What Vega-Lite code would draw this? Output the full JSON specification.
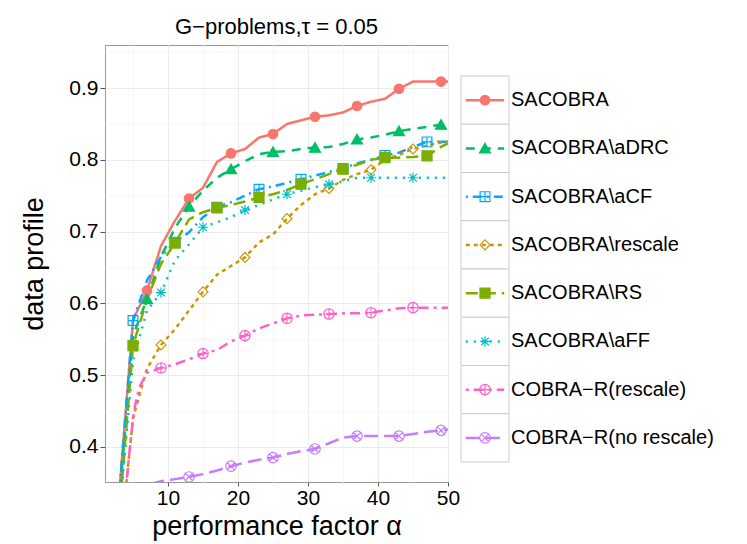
{
  "$schema": "https://vega.github.io/schema/vega-lite/v6.json",
  "padding": {"left": 20, "top": 15, "right": 5, "bottom": 5},
  "background": "white",
  "bounds": "flush",
  "spacing": 13,
  "config": {
    "font": "Liberation Sans",
    "view": {"stroke": "#999999", "strokeWidth": 1},
    "legend": {"disable": true},
    "axis": {
      "labelFont": "Liberation Sans",
      "titleFont": "Liberation Sans",
      "labelColor": "#000000",
      "titleColor": "#000000",
      "titleFontWeight": "normal",
      "domain": false,
      "tickColor": "#555555"
    }
  },
  "datasets": {
    "methods": [
      {"method": "SACOBRA"},
      {"method": "SACOBRA\\aDRC"},
      {"method": "SACOBRA\\aCF"},
      {"method": "SACOBRA\\rescale"},
      {"method": "SACOBRA\\RS"},
      {"method": "SACOBRA\\aFF"},
      {"method": "COBRA−R(rescale)"},
      {"method": "COBRA−R(no rescale)"}
    ],
    "curves": [
      {"method": "SACOBRA", "alpha": 3, "profile": 0.331},
      {"method": "SACOBRA", "alpha": 5, "profile": 0.577},
      {"method": "SACOBRA", "alpha": 7, "profile": 0.618},
      {"method": "SACOBRA", "alpha": 9, "profile": 0.68},
      {"method": "SACOBRA", "alpha": 11, "profile": 0.715},
      {"method": "SACOBRA", "alpha": 13, "profile": 0.746},
      {"method": "SACOBRA", "alpha": 15, "profile": 0.761},
      {"method": "SACOBRA", "alpha": 17, "profile": 0.797},
      {"method": "SACOBRA", "alpha": 19, "profile": 0.809},
      {"method": "SACOBRA", "alpha": 21, "profile": 0.815},
      {"method": "SACOBRA", "alpha": 23, "profile": 0.831},
      {"method": "SACOBRA", "alpha": 25, "profile": 0.836},
      {"method": "SACOBRA", "alpha": 27, "profile": 0.85},
      {"method": "SACOBRA", "alpha": 29, "profile": 0.855},
      {"method": "SACOBRA", "alpha": 31, "profile": 0.86},
      {"method": "SACOBRA", "alpha": 33, "profile": 0.862},
      {"method": "SACOBRA", "alpha": 35, "profile": 0.866},
      {"method": "SACOBRA", "alpha": 37, "profile": 0.875},
      {"method": "SACOBRA", "alpha": 39, "profile": 0.881},
      {"method": "SACOBRA", "alpha": 41, "profile": 0.885},
      {"method": "SACOBRA", "alpha": 43, "profile": 0.899},
      {"method": "SACOBRA", "alpha": 45, "profile": 0.909},
      {"method": "SACOBRA", "alpha": 47, "profile": 0.909},
      {"method": "SACOBRA", "alpha": 49, "profile": 0.909},
      {"method": "SACOBRA", "alpha": 50, "profile": 0.909},
      {"method": "SACOBRA\\aDRC", "alpha": 3, "profile": 0.32},
      {"method": "SACOBRA\\aDRC", "alpha": 5, "profile": 0.555},
      {"method": "SACOBRA\\aDRC", "alpha": 7, "profile": 0.606},
      {"method": "SACOBRA\\aDRC", "alpha": 9, "profile": 0.665},
      {"method": "SACOBRA\\aDRC", "alpha": 11, "profile": 0.705},
      {"method": "SACOBRA\\aDRC", "alpha": 13, "profile": 0.735},
      {"method": "SACOBRA\\aDRC", "alpha": 15, "profile": 0.757},
      {"method": "SACOBRA\\aDRC", "alpha": 17, "profile": 0.775},
      {"method": "SACOBRA\\aDRC", "alpha": 19, "profile": 0.787},
      {"method": "SACOBRA\\aDRC", "alpha": 21, "profile": 0.798},
      {"method": "SACOBRA\\aDRC", "alpha": 23, "profile": 0.808},
      {"method": "SACOBRA\\aDRC", "alpha": 25, "profile": 0.811},
      {"method": "SACOBRA\\aDRC", "alpha": 27, "profile": 0.812},
      {"method": "SACOBRA\\aDRC", "alpha": 29, "profile": 0.815},
      {"method": "SACOBRA\\aDRC", "alpha": 31, "profile": 0.817},
      {"method": "SACOBRA\\aDRC", "alpha": 33, "profile": 0.818},
      {"method": "SACOBRA\\aDRC", "alpha": 35, "profile": 0.822},
      {"method": "SACOBRA\\aDRC", "alpha": 37, "profile": 0.8285},
      {"method": "SACOBRA\\aDRC", "alpha": 39, "profile": 0.831},
      {"method": "SACOBRA\\aDRC", "alpha": 41, "profile": 0.835},
      {"method": "SACOBRA\\aDRC", "alpha": 43, "profile": 0.84},
      {"method": "SACOBRA\\aDRC", "alpha": 45, "profile": 0.843},
      {"method": "SACOBRA\\aDRC", "alpha": 47, "profile": 0.846},
      {"method": "SACOBRA\\aDRC", "alpha": 49, "profile": 0.849},
      {"method": "SACOBRA\\aDRC", "alpha": 50, "profile": 0.85},
      {"method": "SACOBRA\\aCF", "alpha": 3, "profile": 0.33},
      {"method": "SACOBRA\\aCF", "alpha": 5, "profile": 0.576},
      {"method": "SACOBRA\\aCF", "alpha": 7, "profile": 0.632},
      {"method": "SACOBRA\\aCF", "alpha": 9, "profile": 0.665},
      {"method": "SACOBRA\\aCF", "alpha": 11, "profile": 0.685},
      {"method": "SACOBRA\\aCF", "alpha": 13, "profile": 0.699},
      {"method": "SACOBRA\\aCF", "alpha": 15, "profile": 0.72},
      {"method": "SACOBRA\\aCF", "alpha": 17, "profile": 0.734},
      {"method": "SACOBRA\\aCF", "alpha": 19, "profile": 0.741},
      {"method": "SACOBRA\\aCF", "alpha": 21, "profile": 0.75},
      {"method": "SACOBRA\\aCF", "alpha": 23, "profile": 0.759},
      {"method": "SACOBRA\\aCF", "alpha": 25, "profile": 0.763},
      {"method": "SACOBRA\\aCF", "alpha": 27, "profile": 0.768},
      {"method": "SACOBRA\\aCF", "alpha": 29, "profile": 0.773},
      {"method": "SACOBRA\\aCF", "alpha": 31, "profile": 0.778},
      {"method": "SACOBRA\\aCF", "alpha": 33, "profile": 0.783},
      {"method": "SACOBRA\\aCF", "alpha": 35, "profile": 0.788},
      {"method": "SACOBRA\\aCF", "alpha": 37, "profile": 0.795},
      {"method": "SACOBRA\\aCF", "alpha": 39, "profile": 0.8},
      {"method": "SACOBRA\\aCF", "alpha": 41, "profile": 0.806},
      {"method": "SACOBRA\\aCF", "alpha": 43, "profile": 0.81},
      {"method": "SACOBRA\\aCF", "alpha": 45, "profile": 0.818},
      {"method": "SACOBRA\\aCF", "alpha": 47, "profile": 0.825},
      {"method": "SACOBRA\\aCF", "alpha": 49, "profile": 0.825},
      {"method": "SACOBRA\\aCF", "alpha": 50, "profile": 0.825},
      {"method": "SACOBRA\\rescale", "alpha": 3, "profile": 0.25},
      {"method": "SACOBRA\\rescale", "alpha": 5, "profile": 0.44},
      {"method": "SACOBRA\\rescale", "alpha": 7, "profile": 0.509},
      {"method": "SACOBRA\\rescale", "alpha": 9, "profile": 0.542},
      {"method": "SACOBRA\\rescale", "alpha": 11, "profile": 0.564},
      {"method": "SACOBRA\\rescale", "alpha": 13, "profile": 0.59},
      {"method": "SACOBRA\\rescale", "alpha": 15, "profile": 0.616},
      {"method": "SACOBRA\\rescale", "alpha": 17, "profile": 0.64},
      {"method": "SACOBRA\\rescale", "alpha": 19, "profile": 0.652},
      {"method": "SACOBRA\\rescale", "alpha": 21, "profile": 0.664},
      {"method": "SACOBRA\\rescale", "alpha": 23, "profile": 0.685},
      {"method": "SACOBRA\\rescale", "alpha": 25, "profile": 0.696},
      {"method": "SACOBRA\\rescale", "alpha": 27, "profile": 0.718},
      {"method": "SACOBRA\\rescale", "alpha": 29, "profile": 0.737},
      {"method": "SACOBRA\\rescale", "alpha": 31, "profile": 0.752},
      {"method": "SACOBRA\\rescale", "alpha": 33, "profile": 0.76},
      {"method": "SACOBRA\\rescale", "alpha": 35, "profile": 0.772},
      {"method": "SACOBRA\\rescale", "alpha": 37, "profile": 0.78},
      {"method": "SACOBRA\\rescale", "alpha": 39, "profile": 0.786},
      {"method": "SACOBRA\\rescale", "alpha": 41, "profile": 0.8},
      {"method": "SACOBRA\\rescale", "alpha": 43, "profile": 0.807},
      {"method": "SACOBRA\\rescale", "alpha": 45, "profile": 0.815},
      {"method": "SACOBRA\\rescale", "alpha": 47, "profile": 0.82},
      {"method": "SACOBRA\\rescale", "alpha": 49, "profile": 0.824},
      {"method": "SACOBRA\\rescale", "alpha": 50, "profile": 0.826},
      {"method": "SACOBRA\\RS", "alpha": 3, "profile": 0.3},
      {"method": "SACOBRA\\RS", "alpha": 5, "profile": 0.541},
      {"method": "SACOBRA\\RS", "alpha": 7, "profile": 0.605},
      {"method": "SACOBRA\\RS", "alpha": 9, "profile": 0.655},
      {"method": "SACOBRA\\RS", "alpha": 11, "profile": 0.684},
      {"method": "SACOBRA\\RS", "alpha": 13, "profile": 0.717},
      {"method": "SACOBRA\\RS", "alpha": 15, "profile": 0.727},
      {"method": "SACOBRA\\RS", "alpha": 17, "profile": 0.733},
      {"method": "SACOBRA\\RS", "alpha": 19, "profile": 0.737},
      {"method": "SACOBRA\\RS", "alpha": 21, "profile": 0.742},
      {"method": "SACOBRA\\RS", "alpha": 23, "profile": 0.7475},
      {"method": "SACOBRA\\RS", "alpha": 25, "profile": 0.752},
      {"method": "SACOBRA\\RS", "alpha": 27, "profile": 0.758},
      {"method": "SACOBRA\\RS", "alpha": 29, "profile": 0.766},
      {"method": "SACOBRA\\RS", "alpha": 31, "profile": 0.773},
      {"method": "SACOBRA\\RS", "alpha": 33, "profile": 0.78},
      {"method": "SACOBRA\\RS", "alpha": 35, "profile": 0.787},
      {"method": "SACOBRA\\RS", "alpha": 37, "profile": 0.793},
      {"method": "SACOBRA\\RS", "alpha": 39, "profile": 0.8},
      {"method": "SACOBRA\\RS", "alpha": 41, "profile": 0.803},
      {"method": "SACOBRA\\RS", "alpha": 43, "profile": 0.803},
      {"method": "SACOBRA\\RS", "alpha": 45, "profile": 0.804},
      {"method": "SACOBRA\\RS", "alpha": 47, "profile": 0.8055},
      {"method": "SACOBRA\\RS", "alpha": 49, "profile": 0.818},
      {"method": "SACOBRA\\RS", "alpha": 50, "profile": 0.823},
      {"method": "SACOBRA\\aFF", "alpha": 3, "profile": 0.3},
      {"method": "SACOBRA\\aFF", "alpha": 5, "profile": 0.52},
      {"method": "SACOBRA\\aFF", "alpha": 7, "profile": 0.59},
      {"method": "SACOBRA\\aFF", "alpha": 9, "profile": 0.615},
      {"method": "SACOBRA\\aFF", "alpha": 11, "profile": 0.66},
      {"method": "SACOBRA\\aFF", "alpha": 13, "profile": 0.682},
      {"method": "SACOBRA\\aFF", "alpha": 15, "profile": 0.706},
      {"method": "SACOBRA\\aFF", "alpha": 17, "profile": 0.713},
      {"method": "SACOBRA\\aFF", "alpha": 19, "profile": 0.72},
      {"method": "SACOBRA\\aFF", "alpha": 21, "profile": 0.73},
      {"method": "SACOBRA\\aFF", "alpha": 23, "profile": 0.737},
      {"method": "SACOBRA\\aFF", "alpha": 25, "profile": 0.745},
      {"method": "SACOBRA\\aFF", "alpha": 27, "profile": 0.752},
      {"method": "SACOBRA\\aFF", "alpha": 29, "profile": 0.757},
      {"method": "SACOBRA\\aFF", "alpha": 31, "profile": 0.762},
      {"method": "SACOBRA\\aFF", "alpha": 33, "profile": 0.766},
      {"method": "SACOBRA\\aFF", "alpha": 35, "profile": 0.77},
      {"method": "SACOBRA\\aFF", "alpha": 37, "profile": 0.775},
      {"method": "SACOBRA\\aFF", "alpha": 39, "profile": 0.775},
      {"method": "SACOBRA\\aFF", "alpha": 41, "profile": 0.775},
      {"method": "SACOBRA\\aFF", "alpha": 43, "profile": 0.775},
      {"method": "SACOBRA\\aFF", "alpha": 45, "profile": 0.775},
      {"method": "SACOBRA\\aFF", "alpha": 47, "profile": 0.775},
      {"method": "SACOBRA\\aFF", "alpha": 49, "profile": 0.775},
      {"method": "SACOBRA\\aFF", "alpha": 50, "profile": 0.775},
      {"method": "COBRA−R(rescale)", "alpha": 3, "profile": 0.25},
      {"method": "COBRA−R(rescale)", "alpha": 4, "profile": 0.344},
      {"method": "COBRA−R(rescale)", "alpha": 5, "profile": 0.44},
      {"method": "COBRA−R(rescale)", "alpha": 5.5, "profile": 0.468},
      {"method": "COBRA−R(rescale)", "alpha": 6, "profile": 0.485},
      {"method": "COBRA−R(rescale)", "alpha": 7, "profile": 0.503},
      {"method": "COBRA−R(rescale)", "alpha": 9, "profile": 0.51},
      {"method": "COBRA−R(rescale)", "alpha": 11, "profile": 0.515},
      {"method": "COBRA−R(rescale)", "alpha": 13, "profile": 0.522},
      {"method": "COBRA−R(rescale)", "alpha": 15, "profile": 0.53},
      {"method": "COBRA−R(rescale)", "alpha": 17, "profile": 0.535},
      {"method": "COBRA−R(rescale)", "alpha": 19, "profile": 0.547},
      {"method": "COBRA−R(rescale)", "alpha": 21, "profile": 0.555},
      {"method": "COBRA−R(rescale)", "alpha": 23, "profile": 0.565},
      {"method": "COBRA−R(rescale)", "alpha": 25, "profile": 0.572},
      {"method": "COBRA−R(rescale)", "alpha": 27, "profile": 0.579},
      {"method": "COBRA−R(rescale)", "alpha": 29, "profile": 0.583},
      {"method": "COBRA−R(rescale)", "alpha": 31, "profile": 0.584},
      {"method": "COBRA−R(rescale)", "alpha": 33, "profile": 0.585},
      {"method": "COBRA−R(rescale)", "alpha": 35, "profile": 0.586},
      {"method": "COBRA−R(rescale)", "alpha": 37, "profile": 0.586},
      {"method": "COBRA−R(rescale)", "alpha": 39, "profile": 0.587},
      {"method": "COBRA−R(rescale)", "alpha": 41, "profile": 0.59},
      {"method": "COBRA−R(rescale)", "alpha": 43, "profile": 0.593},
      {"method": "COBRA−R(rescale)", "alpha": 45, "profile": 0.594},
      {"method": "COBRA−R(rescale)", "alpha": 47, "profile": 0.594},
      {"method": "COBRA−R(rescale)", "alpha": 49, "profile": 0.594},
      {"method": "COBRA−R(rescale)", "alpha": 50, "profile": 0.594},
      {"method": "COBRA−R(no rescale)", "alpha": 5, "profile": 0.3},
      {"method": "COBRA−R(no rescale)", "alpha": 7, "profile": 0.347},
      {"method": "COBRA−R(no rescale)", "alpha": 9, "profile": 0.352},
      {"method": "COBRA−R(no rescale)", "alpha": 11, "profile": 0.355},
      {"method": "COBRA−R(no rescale)", "alpha": 13, "profile": 0.358},
      {"method": "COBRA−R(no rescale)", "alpha": 15, "profile": 0.362},
      {"method": "COBRA−R(no rescale)", "alpha": 17, "profile": 0.367},
      {"method": "COBRA−R(no rescale)", "alpha": 19, "profile": 0.373},
      {"method": "COBRA−R(no rescale)", "alpha": 21, "profile": 0.378},
      {"method": "COBRA−R(no rescale)", "alpha": 23, "profile": 0.382},
      {"method": "COBRA−R(no rescale)", "alpha": 25, "profile": 0.385},
      {"method": "COBRA−R(no rescale)", "alpha": 27, "profile": 0.39},
      {"method": "COBRA−R(no rescale)", "alpha": 29, "profile": 0.394},
      {"method": "COBRA−R(no rescale)", "alpha": 31, "profile": 0.397},
      {"method": "COBRA−R(no rescale)", "alpha": 33, "profile": 0.405},
      {"method": "COBRA−R(no rescale)", "alpha": 35, "profile": 0.413},
      {"method": "COBRA−R(no rescale)", "alpha": 37, "profile": 0.415},
      {"method": "COBRA−R(no rescale)", "alpha": 39, "profile": 0.415},
      {"method": "COBRA−R(no rescale)", "alpha": 41, "profile": 0.415},
      {"method": "COBRA−R(no rescale)", "alpha": 43, "profile": 0.415},
      {"method": "COBRA−R(no rescale)", "alpha": 45, "profile": 0.418},
      {"method": "COBRA−R(no rescale)", "alpha": 47, "profile": 0.421},
      {"method": "COBRA−R(no rescale)", "alpha": 49, "profile": 0.423},
      {"method": "COBRA−R(no rescale)", "alpha": 50, "profile": 0.424}
    ],
    "markers": [
      {"method": "SACOBRA", "alpha": 7, "profile": 0.618},
      {"method": "SACOBRA", "alpha": 13, "profile": 0.746},
      {"method": "SACOBRA", "alpha": 19, "profile": 0.809},
      {"method": "SACOBRA", "alpha": 25, "profile": 0.836},
      {"method": "SACOBRA", "alpha": 31, "profile": 0.86},
      {"method": "SACOBRA", "alpha": 37, "profile": 0.875},
      {"method": "SACOBRA", "alpha": 43, "profile": 0.899},
      {"method": "SACOBRA", "alpha": 49, "profile": 0.909},
      {"method": "SACOBRA\\aDRC", "alpha": 7, "profile": 0.606},
      {"method": "SACOBRA\\aDRC", "alpha": 13, "profile": 0.735},
      {"method": "SACOBRA\\aDRC", "alpha": 19, "profile": 0.787},
      {"method": "SACOBRA\\aDRC", "alpha": 25, "profile": 0.811},
      {"method": "SACOBRA\\aDRC", "alpha": 31, "profile": 0.817},
      {"method": "SACOBRA\\aDRC", "alpha": 37, "profile": 0.8285},
      {"method": "SACOBRA\\aDRC", "alpha": 43, "profile": 0.84},
      {"method": "SACOBRA\\aDRC", "alpha": 49, "profile": 0.849},
      {"method": "SACOBRA\\aCF", "alpha": 5, "profile": 0.576},
      {"method": "SACOBRA\\aCF", "alpha": 11, "profile": 0.685},
      {"method": "SACOBRA\\aCF", "alpha": 17, "profile": 0.734},
      {"method": "SACOBRA\\aCF", "alpha": 23, "profile": 0.759},
      {"method": "SACOBRA\\aCF", "alpha": 29, "profile": 0.773},
      {"method": "SACOBRA\\aCF", "alpha": 35, "profile": 0.788},
      {"method": "SACOBRA\\aCF", "alpha": 41, "profile": 0.806},
      {"method": "SACOBRA\\aCF", "alpha": 47, "profile": 0.825},
      {"method": "SACOBRA\\rescale", "alpha": 9, "profile": 0.542},
      {"method": "SACOBRA\\rescale", "alpha": 15, "profile": 0.616},
      {"method": "SACOBRA\\rescale", "alpha": 21, "profile": 0.664},
      {"method": "SACOBRA\\rescale", "alpha": 27, "profile": 0.718},
      {"method": "SACOBRA\\rescale", "alpha": 33, "profile": 0.76},
      {"method": "SACOBRA\\rescale", "alpha": 39, "profile": 0.786},
      {"method": "SACOBRA\\rescale", "alpha": 45, "profile": 0.815},
      {"method": "SACOBRA\\RS", "alpha": 5, "profile": 0.541},
      {"method": "SACOBRA\\RS", "alpha": 11, "profile": 0.684},
      {"method": "SACOBRA\\RS", "alpha": 17, "profile": 0.733},
      {"method": "SACOBRA\\RS", "alpha": 23, "profile": 0.7475},
      {"method": "SACOBRA\\RS", "alpha": 29, "profile": 0.766},
      {"method": "SACOBRA\\RS", "alpha": 35, "profile": 0.787},
      {"method": "SACOBRA\\RS", "alpha": 41, "profile": 0.803},
      {"method": "SACOBRA\\RS", "alpha": 47, "profile": 0.8055},
      {"method": "SACOBRA\\aFF", "alpha": 9, "profile": 0.615},
      {"method": "SACOBRA\\aFF", "alpha": 15, "profile": 0.706},
      {"method": "SACOBRA\\aFF", "alpha": 21, "profile": 0.73},
      {"method": "SACOBRA\\aFF", "alpha": 27, "profile": 0.752},
      {"method": "SACOBRA\\aFF", "alpha": 33, "profile": 0.766},
      {"method": "SACOBRA\\aFF", "alpha": 39, "profile": 0.775},
      {"method": "SACOBRA\\aFF", "alpha": 45, "profile": 0.775},
      {"method": "COBRA−R(rescale)", "alpha": 9, "profile": 0.51},
      {"method": "COBRA−R(rescale)", "alpha": 15, "profile": 0.53},
      {"method": "COBRA−R(rescale)", "alpha": 21, "profile": 0.555},
      {"method": "COBRA−R(rescale)", "alpha": 27, "profile": 0.579},
      {"method": "COBRA−R(rescale)", "alpha": 33, "profile": 0.585},
      {"method": "COBRA−R(rescale)", "alpha": 39, "profile": 0.587},
      {"method": "COBRA−R(rescale)", "alpha": 45, "profile": 0.594},
      {"method": "COBRA−R(no rescale)", "alpha": 13, "profile": 0.358},
      {"method": "COBRA−R(no rescale)", "alpha": 19, "profile": 0.373},
      {"method": "COBRA−R(no rescale)", "alpha": 25, "profile": 0.385},
      {"method": "COBRA−R(no rescale)", "alpha": 31, "profile": 0.397},
      {"method": "COBRA−R(no rescale)", "alpha": 37, "profile": 0.415},
      {"method": "COBRA−R(no rescale)", "alpha": 43, "profile": 0.415},
      {"method": "COBRA−R(no rescale)", "alpha": 49, "profile": 0.423}
    ]
  },
  "resolve": {"scale": {"x": "independent", "y": "independent"}},
  "hconcat": [
    {
      "width": 343,
      "height": 437,
      "title": {
        "text": "G−problems,τ = 0.05",
        "fontSize": 22,
        "fontWeight": "normal",
        "font": "Liberation Sans",
        "color": "#000000",
        "anchor": "middle",
        "offset": 6
      },
      "encoding": {
        "x": {
          "field": "alpha",
          "type": "quantitative",
          "scale": {"domain": [1, 50], "nice": false, "zero": false},
          "axis": {
            "title": "performance factor α",
            "titleFontSize": 27,
            "titlePadding": 5,
            "labelFontSize": 21,
            "labelPadding": 1,
            "tickSize": 4,
            "values": [5, 10, 15, 20, 25, 30, 35, 40, 45, 50],
            "labelExpr": "datum.value % 10 === 0 ? datum.label : ''",
            "tickOpacity": {"condition": {"test": "datum.value % 10 === 0", "value": 1}, "value": 0},
            "gridColor": {"condition": {"test": "datum.value % 10 === 0", "value": "#EBEBEB"}, "value": "#F6F6F6"},
            "labelFlush": false
          }
        },
        "y": {
          "field": "profile",
          "type": "quantitative",
          "scale": {"domain": [0.351, 0.96], "nice": false, "zero": false},
          "axis": {
            "title": "data profile",
            "titleFontSize": 27,
            "titlePadding": 20,
            "labelFontSize": 21,
            "labelPadding": 2,
            "tickSize": 5,
            "values": [0.4, 0.45, 0.5, 0.55, 0.6, 0.65, 0.7, 0.75, 0.8, 0.85, 0.9, 0.95],
            "labelExpr": "abs(datum.value * 10 - round(datum.value * 10)) < 0.001 ? format(datum.value, '.1f') : ''",
            "tickOpacity": {"condition": {"test": "abs(datum.value * 10 - round(datum.value * 10)) < 0.001", "value": 1}, "value": 0},
            "gridColor": {"condition": {"test": "abs(datum.value * 10 - round(datum.value * 10)) < 0.001", "value": "#EBEBEB"}, "value": "#F6F6F6"},
            "labelFlush": false
          }
        }
      },
      "layer": [
        {
          "data": {"name": "curves"},
          "mark": {"type": "line", "clip": true, "strokeWidth": 2.5},
          "encoding": {
            "color": {
              "field": "method",
              "type": "nominal",
              "scale": {
                "domain": ["SACOBRA", "SACOBRA\\aDRC", "SACOBRA\\aCF", "SACOBRA\\rescale", "SACOBRA\\RS", "SACOBRA\\aFF", "COBRA−R(rescale)", "COBRA−R(no rescale)"],
                "range": ["#F8766D", "#00BE67", "#00A9FF", "#CD9600", "#7CAE00", "#00BFC4", "#FF61CC", "#C77CFF"]
              }
            },
            "strokeDash": {
              "field": "method",
              "type": "nominal",
              "scale": {
                "domain": ["SACOBRA", "SACOBRA\\aDRC", "SACOBRA\\aCF", "SACOBRA\\rescale", "SACOBRA\\RS", "SACOBRA\\aFF", "COBRA−R(rescale)", "COBRA−R(no rescale)"],
                "range": [[1, 0], [9, 7], [2, 5, 9, 5], [4, 4], [12, 6], [2, 6], [3, 5, 10, 5], [14, 6]]
              }
            }
          }
        },
        {
          "data": {"name": "markers"},
          "mark": {"type": "point", "clip": true, "strokeWidth": 1.2, "opacity": 1},
          "encoding": {
            "shape": {
              "field": "method",
              "type": "nominal",
              "scale": {
                "domain": ["SACOBRA", "SACOBRA\\aDRC", "SACOBRA\\aCF", "SACOBRA\\rescale", "SACOBRA\\RS", "SACOBRA\\aFF", "COBRA−R(rescale)", "COBRA−R(no rescale)"],
                "range": [
                  "circle",
                  "M0,-1.05L1.15,0.95L-1.15,0.95Z",
                  "M-1,-1L1,-1L1,1L-1,1Z M0,-1L0,1 M-1,0L1,0",
                  "diamond",
                  "square",
                  "M-1,0L1,0 M0,-1L0,1 M-0.75,-0.75L0.75,0.75 M-0.75,0.75L0.75,-0.75",
                  "M-1,0A1,1,0,1,0,1,0A1,1,0,1,0,-1,0Z M-1,0L1,0 M0,-1L0,1",
                  "M-1,0A1,1,0,1,0,1,0A1,1,0,1,0,-1,0Z M-0.71,-0.71L0.71,0.71 M-0.71,0.71L0.71,-0.71"
                ]
              }
            },
            "stroke": {
              "field": "method",
              "type": "nominal",
              "scale": {
                "domain": ["SACOBRA", "SACOBRA\\aDRC", "SACOBRA\\aCF", "SACOBRA\\rescale", "SACOBRA\\RS", "SACOBRA\\aFF", "COBRA−R(rescale)", "COBRA−R(no rescale)"],
                "range": ["#F8766D", "#00BE67", "#00A9FF", "#CD9600", "#7CAE00", "#00BFC4", "#FF61CC", "#C77CFF"]
              }
            },
            "fill": {
              "field": "method",
              "type": "nominal",
              "scale": {
                "domain": ["SACOBRA", "SACOBRA\\aDRC", "SACOBRA\\aCF", "SACOBRA\\rescale", "SACOBRA\\RS", "SACOBRA\\aFF", "COBRA−R(rescale)", "COBRA−R(no rescale)"],
                "range": ["#F8766D", "#00BE67", "transparent", "transparent", "#7CAE00", "transparent", "transparent", "transparent"]
              }
            },
            "size": {
              "field": "method",
              "type": "nominal",
              "scale": {
                "domain": ["SACOBRA", "SACOBRA\\aDRC", "SACOBRA\\aCF", "SACOBRA\\rescale", "SACOBRA\\RS", "SACOBRA\\aFF", "COBRA−R(rescale)", "COBRA−R(no rescale)"],
                "range": [90, 110, 95, 125, 80, 125, 115, 100]
              }
            }
          }
        }
      ]
    },
    {
      "width": 48,
      "height": 437,
      "view": {"stroke": null},
      "data": {"name": "methods"},
      "encoding": {
        "y": {
          "field": "method",
          "type": "nominal",
          "sort": null,
          "axis": null,
          "scale": {"paddingInner": 0, "paddingOuter": 0.5285, "align": 0.608}
        }
      },
      "layer": [
        {
          "mark": {"type": "rect", "fill": "white", "stroke": "#CCCCCC", "strokeWidth": 1},
          "encoding": {
            "x": {"datum": 0, "type": "quantitative", "scale": {"domain": [0, 1]}, "axis": null},
            "x2": {"datum": 1}
          }
        },
        {
          "mark": {"type": "rule", "strokeWidth": 2.5},
          "encoding": {
            "x": {"datum": 0.1, "type": "quantitative"},
            "x2": {"datum": 0.9},
            "color": {
              "field": "method",
              "type": "nominal",
              "scale": {
                "domain": ["SACOBRA", "SACOBRA\\aDRC", "SACOBRA\\aCF", "SACOBRA\\rescale", "SACOBRA\\RS", "SACOBRA\\aFF", "COBRA−R(rescale)", "COBRA−R(no rescale)"],
                "range": ["#F8766D", "#00BE67", "#00A9FF", "#CD9600", "#7CAE00", "#00BFC4", "#FF61CC", "#C77CFF"]
              }
            },
            "strokeDash": {
              "field": "method",
              "type": "nominal",
              "scale": {
                "domain": ["SACOBRA", "SACOBRA\\aDRC", "SACOBRA\\aCF", "SACOBRA\\rescale", "SACOBRA\\RS", "SACOBRA\\aFF", "COBRA−R(rescale)", "COBRA−R(no rescale)"],
                "range": [[1, 0], [9, 7], [2, 5, 9, 5], [4, 4], [12, 6], [2, 6], [3, 5, 10, 5], [14, 6]]
              }
            }
          }
        },
        {
          "mark": {"type": "point", "strokeWidth": 1.2, "opacity": 1},
          "encoding": {
            "x": {"datum": 0.5, "type": "quantitative"},
            "shape": {
              "field": "method",
              "type": "nominal",
              "scale": {
                "domain": ["SACOBRA", "SACOBRA\\aDRC", "SACOBRA\\aCF", "SACOBRA\\rescale", "SACOBRA\\RS", "SACOBRA\\aFF", "COBRA−R(rescale)", "COBRA−R(no rescale)"],
                "range": [
                  "circle",
                  "M0,-1.05L1.15,0.95L-1.15,0.95Z",
                  "M-1,-1L1,-1L1,1L-1,1Z M0,-1L0,1 M-1,0L1,0",
                  "diamond",
                  "square",
                  "M-1,0L1,0 M0,-1L0,1 M-0.75,-0.75L0.75,0.75 M-0.75,0.75L0.75,-0.75",
                  "M-1,0A1,1,0,1,0,1,0A1,1,0,1,0,-1,0Z M-1,0L1,0 M0,-1L0,1",
                  "M-1,0A1,1,0,1,0,1,0A1,1,0,1,0,-1,0Z M-0.71,-0.71L0.71,0.71 M-0.71,0.71L0.71,-0.71"
                ]
              }
            },
            "stroke": {
              "field": "method",
              "type": "nominal",
              "scale": {
                "domain": ["SACOBRA", "SACOBRA\\aDRC", "SACOBRA\\aCF", "SACOBRA\\rescale", "SACOBRA\\RS", "SACOBRA\\aFF", "COBRA−R(rescale)", "COBRA−R(no rescale)"],
                "range": ["#F8766D", "#00BE67", "#00A9FF", "#CD9600", "#7CAE00", "#00BFC4", "#FF61CC", "#C77CFF"]
              }
            },
            "fill": {
              "field": "method",
              "type": "nominal",
              "scale": {
                "domain": ["SACOBRA", "SACOBRA\\aDRC", "SACOBRA\\aCF", "SACOBRA\\rescale", "SACOBRA\\RS", "SACOBRA\\aFF", "COBRA−R(rescale)", "COBRA−R(no rescale)"],
                "range": ["#F8766D", "#00BE67", "white", "white", "#7CAE00", "white", "white", "white"]
              }
            },
            "size": {
              "field": "method",
              "type": "nominal",
              "scale": {
                "domain": ["SACOBRA", "SACOBRA\\aDRC", "SACOBRA\\aCF", "SACOBRA\\rescale", "SACOBRA\\RS", "SACOBRA\\aFF", "COBRA−R(rescale)", "COBRA−R(no rescale)"],
                "range": [90, 110, 95, 125, 80, 125, 115, 100]
              }
            }
          }
        },
        {
          "mark": {"type": "text", "align": "left", "baseline": "middle", "dx": 2, "fontSize": 20, "font": "Liberation Sans", "color": "#000000"},
          "encoding": {
            "x": {"datum": 1, "type": "quantitative"},
            "text": {"field": "method", "type": "nominal"}
          }
        }
      ]
    }
  ]
}
